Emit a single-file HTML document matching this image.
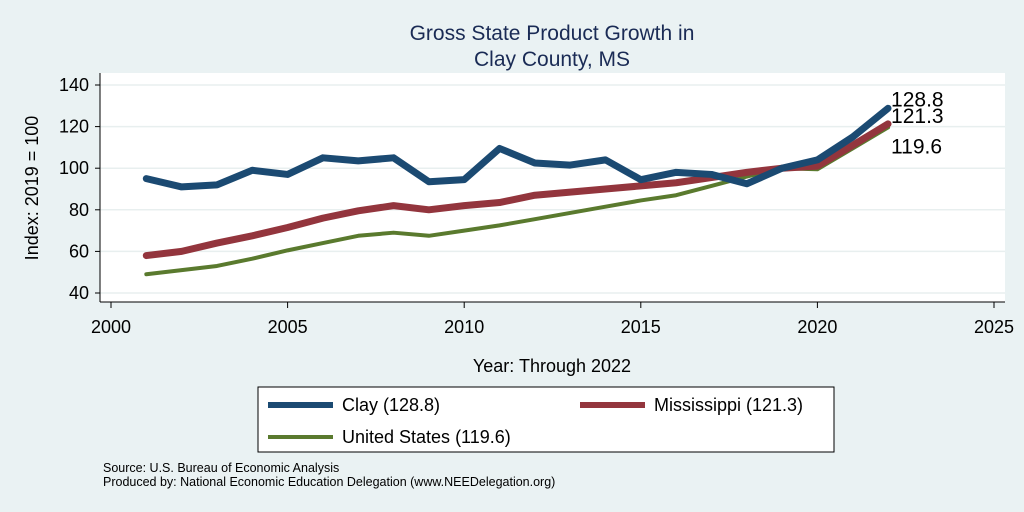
<!DOCTYPE html>
<html><head><meta charset="utf-8"><style>
body{margin:0;background:#eaf2f3;font-family:"Liberation Sans",sans-serif;}
svg{display:block}
</style></head><body>
<svg id="c" width="1024" height="512" xmlns="http://www.w3.org/2000/svg">
<rect x="0" y="0" width="1024" height="512" fill="#eaf2f3"/>
<text x="552" y="40" text-anchor="middle" font-size="21" fill="#1a2b55">Gross State Product Growth in</text>
<text x="552" y="66" text-anchor="middle" font-size="21" fill="#1a2b55">Clay County, MS</text>
<rect x="100" y="73" width="905" height="229" fill="#ffffff"/>
<g id="grid"></g><g id="axes"></g><g id="series"></g>
<text transform="translate(38,188) rotate(-90)" text-anchor="middle" font-size="18" fill="#000">Index: 2019 = 100</text>
<text x="552" y="372" text-anchor="middle" font-size="18" fill="#000">Year: Through 2022</text>
<g>
<rect x="258" y="387" width="576" height="65" fill="#fff" stroke="#000" stroke-width="1"/>
<line x1="268" y1="405" x2="333" y2="405" stroke="#1b4a72" stroke-width="6"/>
<text x="342" y="411" font-size="18">Clay  (128.8)</text>
<line x1="580" y1="405" x2="645" y2="405" stroke="#93353d" stroke-width="6"/>
<text x="654" y="411" font-size="18">Mississippi (121.3)</text>
<line x1="268" y1="437" x2="333" y2="437" stroke="#5a7a2e" stroke-width="4"/>
<text x="342" y="443" font-size="18">United States (119.6)</text>
</g>
<text x="103" y="472" font-size="12.5">Source: U.S. Bureau of Economic Analysis</text>
<text x="103" y="486" font-size="12.5">Produced by: National Economic Education Delegation (www.NEEDelegation.org)</text>
</svg>
<script>
const years=[2001,2002,2003,2004,2005,2006,2007,2008,2009,2010,2011,2012,2013,2014,2015,2016,2017,2018,2019,2020,2021,2022];
const clay=[95,91,92,99,97,105,103.5,105,93.5,94.5,109.5,102.5,101.5,104,94.5,98,97,92.5,100,104,115,128.8];
const miss=[58,60,64,67.5,71.5,76,79.5,82,80,82,83.5,87,88.5,90,91.5,93,95.5,98,100,101,111,121.3];
const us=[49,51,53,56.5,60.5,64,67.5,69,67.5,70,72.5,75.5,78.5,81.5,84.5,87,91.5,96,100,99.5,109.5,119.6];
const yTicks=[40,60,80,100,120,140];
const xTicks=[2000,2005,2010,2015,2020,2025];
const NS='http://www.w3.org/2000/svg';
function X(v){return 111+(v-2000)*35.32;}
function Y(v){return 293-(v-40)*2.08;}
function mk(t,a,p){const e=document.createElementNS(NS,t);for(const k in a)e.setAttribute(k,a[k]);p.appendChild(e);return e;}
const grid=document.getElementById('grid'),axes=document.getElementById('axes'),ser=document.getElementById('series');
yTicks.forEach(v=>{
 const g=mk('line',{x1:100,x2:1005,y1:Y(v),y2:Y(v),stroke:'#e8efef','stroke-width':1.5},grid);
 
 
 const tk=mk('line',{x1:95,x2:100,y1:Y(v),y2:Y(v),stroke:'#000'},axes);
 
 
 const t=mk('text',{x:89,y:Y(v)+6,'text-anchor':'end','font-size':18},axes);t.textContent=v;
 
 
});
const la=mk('line',{x1:100,x2:100,y1:73,y2:302,stroke:'#000'},axes);


const ba=mk('line',{x1:100,x2:1005,y1:302,y2:302,stroke:'#000'},axes);


xTicks.forEach(v=>{
 const tk=mk('line',{x1:X(v),x2:X(v),y1:302,y2:308,stroke:'#000'},axes);
 
 
 const t=mk('text',{x:X(v),y:333,'text-anchor':'middle','font-size':18},axes);t.textContent=v;
 
 
});
function line(vals,col,w,name){
 const p=mk('polyline',{points:vals.map((v,i)=>X(years[i])+','+Y(v)).join(' '),fill:'none',stroke:col,'stroke-width':w,'stroke-linejoin':'round','stroke-linecap':'round'},ser);
 
 
}
line(us,'#5a7a2e',4,'line-us');
line(miss,'#93353d',7,'line-mississippi');
line(clay,'#1b4a72',7,'line-clay');
const last=years.length-1;
[[clay,-2,'label-clay'],[miss,-1,'label-mississippi'],[us,26,'label-us']].forEach(([a,dy,n])=>{
 const t=mk('text',{x:X(years[last])+3,y:Y(a[last])+dy,'font-size':21},ser);t.textContent=a[last];
 
 
});
</script>
</body></html>
